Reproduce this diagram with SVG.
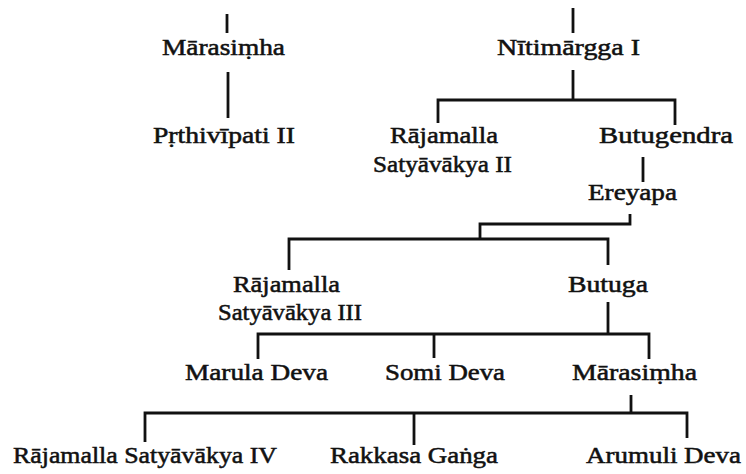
<svg xmlns="http://www.w3.org/2000/svg" width="746" height="474" viewBox="0 0 746 474">
  <style>
    .name { font-family: "Liberation Serif", "Times New Roman", serif; font-size: 24px; fill: #111; text-anchor: middle; stroke: #111; stroke-width: 0.55px; }
    .link { fill: none; stroke: #111; stroke-width: 2.8; stroke-linecap: butt; stroke-linejoin: miter; }
  </style>
  <rect width="746" height="474" fill="#fff"/>

  <!-- descent lines -->
  <g id="connectors">
    <path class="link" d="M227,14 V33"/>
    <path class="link" d="M228,72 V118"/>
    <path class="link" d="M573,8 V33"/>
    <path class="link" d="M573,70 V100"/>
    <path class="link" d="M438,123 V100 H675 V125"/>
    <path class="link" d="M643,157 V182"/>
    <path class="link" d="M630,214 V224 H480 V239"/>
    <path class="link" d="M289,270 V239 H608 V265"/>
    <path class="link" d="M608,302 V334"/>
    <path class="link" d="M258,359 V334 H649 V359"/>
    <path class="link" d="M434,334 V358"/>
    <path class="link" d="M631,395 V413"/>
    <path class="link" d="M145,442 V413 H687 V438"/>
    <path class="link" d="M414,413 V445"/>
  </g>

  <g id="marasimha-1"><text class="name" x="223.5" y="55" textLength="123" lengthAdjust="spacingAndGlyphs">Mārasiṃha</text></g>
  <g id="prthivipati-2"><text class="name" x="224" y="143" textLength="142" lengthAdjust="spacingAndGlyphs">Pṛthivīpati II</text></g>
  <g id="nitimargga-1"><text class="name" x="568.5" y="55" textLength="143" lengthAdjust="spacingAndGlyphs">Nītimārgga I</text></g>
  <g id="rajamalla-2">
    <text class="name" x="444" y="143" textLength="108" lengthAdjust="spacingAndGlyphs">Rājamalla</text>
    <text class="name" x="442.5" y="172" textLength="139" lengthAdjust="spacingAndGlyphs">Satyāvākya II</text>
  </g>
  <g id="butugendra"><text class="name" x="666" y="143" textLength="134" lengthAdjust="spacingAndGlyphs">Butugendra</text></g>
  <g id="ereyapa"><text class="name" x="632.5" y="200" textLength="89" lengthAdjust="spacingAndGlyphs">Ereyapa</text></g>
  <g id="rajamalla-3">
    <text class="name" x="286.5" y="292" textLength="107" lengthAdjust="spacingAndGlyphs">Rājamalla</text>
    <text class="name" x="290" y="320" textLength="144" lengthAdjust="spacingAndGlyphs">Satyāvākya III</text>
  </g>
  <g id="butuga"><text class="name" x="608" y="292" textLength="80" lengthAdjust="spacingAndGlyphs">Butuga</text></g>
  <g id="marula-deva"><text class="name" x="256.5" y="380" textLength="143" lengthAdjust="spacingAndGlyphs">Marula Deva</text></g>
  <g id="somi-deva"><text class="name" x="445" y="380" textLength="120" lengthAdjust="spacingAndGlyphs">Somi Deva</text></g>
  <g id="marasimha-2"><text class="name" x="634.5" y="380" textLength="125" lengthAdjust="spacingAndGlyphs">Mārasiṃha</text></g>
  <g id="rajamalla-4"><text class="name" x="145" y="463" textLength="264" lengthAdjust="spacingAndGlyphs">Rājamalla Satyāvākya IV</text></g>
  <g id="rakkasa-ganga"><text class="name" x="414" y="463" textLength="168" lengthAdjust="spacingAndGlyphs">Rakkasa Gaṅga</text></g>
  <g id="arumuli-deva"><text class="name" x="663.5" y="463" textLength="155" lengthAdjust="spacingAndGlyphs">Arumuli Deva</text></g>
</svg>
